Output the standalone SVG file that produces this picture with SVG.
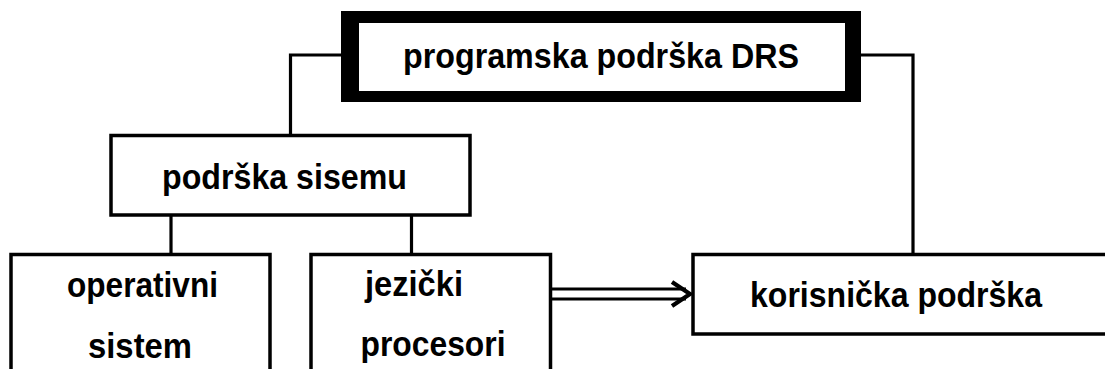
<svg xmlns="http://www.w3.org/2000/svg" width="1105" height="369" viewBox="0 0 1105 369">
<style>
.box{fill:#fff;stroke:#000;stroke-width:3.5}
.ln{fill:none;stroke:#000;stroke-width:3.2}
.t{font-family:"Liberation Sans",Arial,sans-serif;font-weight:bold;font-size:35px;fill:#000}
.m{text-anchor:middle}
</style>
<rect width="1105" height="369" fill="#fff"/>
<g id="connectors">
<polyline class="ln" points="341,55 290.5,55 290.5,135.5"/>
<polyline class="ln" points="861,55 913,55 913,254.5"/>
<line class="ln" x1="171" y1="215" x2="171" y2="254.5"/>
<line class="ln" x1="411.5" y1="215" x2="411.5" y2="254.5"/>
<line class="ln" x1="550" y1="289" x2="686" y2="289"/>
<line class="ln" x1="550" y1="299" x2="686" y2="299"/>
<polyline points="672,282 690,294 672,306" fill="none" stroke="#000" stroke-width="4.2" stroke-linejoin="miter"/>
</g>
<g id="node-drs">
<path d="M341,11H861V102H341Z M359,23V91H845V23Z" fill="#000" fill-rule="evenodd"/>
<text class="t m" x="601" y="68" textLength="396" lengthAdjust="spacingAndGlyphs">programska podrška DRS</text>
</g>
<g id="node-sistem">
<rect class="box" x="111" y="135.5" width="359" height="79.5"/>
<text class="t m" x="284.5" y="189" textLength="245" lengthAdjust="spacingAndGlyphs">podrška sisemu</text>
</g>
<g id="node-os">
<rect class="box" x="11" y="254.5" width="259" height="130"/>
<text class="t m" x="142.5" y="297" textLength="151" lengthAdjust="spacingAndGlyphs">operativni</text>
<text class="t m" x="140" y="358" textLength="104" lengthAdjust="spacingAndGlyphs">sistem</text>
</g>
<g id="node-jezicki">
<rect class="box" x="311" y="254.5" width="239.5" height="130"/>
<text class="t m" x="414" y="296" textLength="98" lengthAdjust="spacingAndGlyphs">jezički</text>
<text class="t m" x="433" y="356" textLength="145" lengthAdjust="spacingAndGlyphs">procesori</text>
</g>
<g id="node-korisnicka">
<rect class="box" x="693" y="254.5" width="450" height="79.5"/>
<text class="t" x="750" y="307" textLength="292" lengthAdjust="spacingAndGlyphs">korisnička podrška</text>
</g>
</svg>
